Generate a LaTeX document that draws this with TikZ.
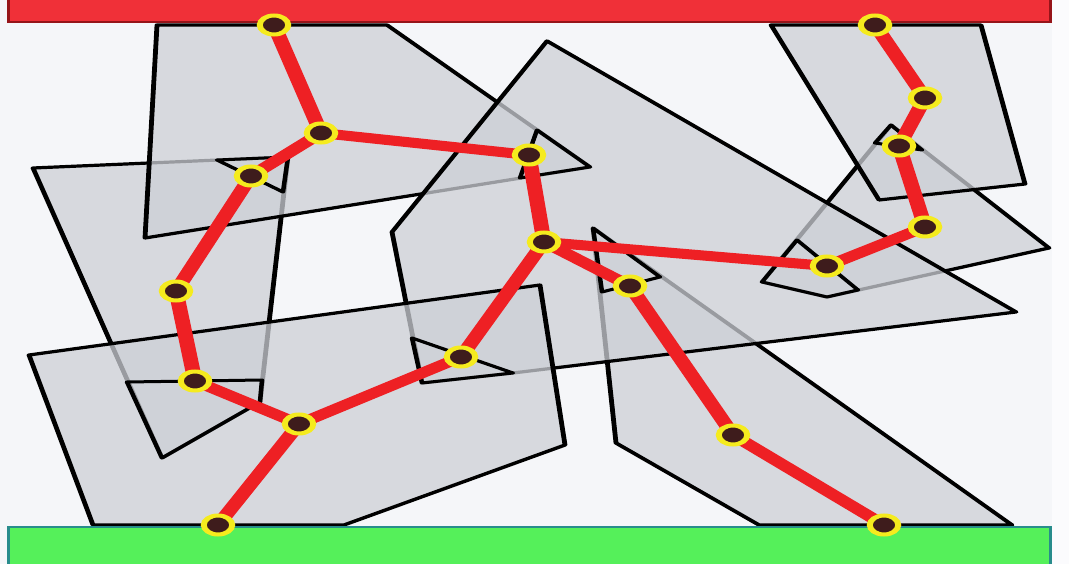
\documentclass[tikz,border=0pt]{standalone}
\definecolor{bgcol}{RGB}{245,246,249}
\definecolor{obstfill}{RGB}{205,208,214}
\definecolor{pathred}{RGB}{238,32,36}
\definecolor{ringyellow}{RGB}{245,235,30}
\definecolor{nodedark}{RGB}{62,28,28}
\definecolor{barred}{RGB}{240,48,56}
\definecolor{barredborder}{RGB}{150,20,25}
\definecolor{bargreen}{RGB}{85,240,90}
\definecolor{bargreenborder}{RGB}{40,140,140}
\begin{document}
\begin{tikzpicture}[x={(1pt,0pt)},y={(0pt,-1pt)},
  obst/.style={fill=obstfill, fill opacity=0.75, draw=black, line width=3.2pt, line join=round},
  cornerpiece/.style={draw=black, line width=3pt, line join=round},
  route/.style={draw=pathred, line width=10pt, line cap=round},
  wp/.style={circle, fill=nodedark, draw=ringyellow, line width=4pt, minimum size=19pt, inner sep=0pt}]
\useasboundingbox (0,0) rectangle (1069,564);
\fill[bgcol] (0,0) rectangle (1069,564);
\fill[white!60!bgcol] (1052,0) rectangle (1069,564);
\begin{scope}[x={(0.66667pt,0pt)}, transform canvas={xscale=1.5}]
% obstacles (bottom to top)
\path[obst] (33,168) -- (288,157) -- (260,402) -- (162,458) -- cycle;           % C
\path[obst] (157,25) -- (387,25) -- (590,167) -- (145,238) -- cycle;            % A
\path[obst] (593,228) -- (1012,525) -- (759,525) -- (616,443) -- cycle;         % G
\path[obst] (891,125) -- (1049,248) -- (827,297) -- (762,282) -- cycle;         % F
\path[obst] (771,25) -- (981,25) -- (1025,184) -- (879,200) -- cycle;           % E
\path[obst] (547,41) -- (1016,312) -- (513,373) -- (422,383) -- (392,232) -- cycle; % B
\path[obst] (29,355) -- (540,285) -- (565,445) -- (344,525) -- (93,525) -- cycle;   % D

% corner pieces
\draw[cornerpiece] (217,160) -- (288,157) -- (283,192) -- cycle;
\draw[cornerpiece] (127,382) -- (262,380) -- (260,402) -- (162,458) -- cycle;
\draw[cornerpiece] (537,130) -- (590,167) -- (520,178) -- cycle;
\draw[cornerpiece] (412,338) -- (513,373) -- (422,383) -- cycle;
\draw[cornerpiece] (875,143) -- (891,125) -- (922,150) -- cycle;
\draw[cornerpiece] (797,240) -- (762,282) -- (827,297) -- (858,290) -- cycle;
\draw[cornerpiece] (593,228) -- (660,277) -- (602,292) -- cycle;

% bars
\fill[barred] (8,0) rectangle (1050,22);
\draw[barredborder, line width=2pt] (8,-2) -- (8,22) -- (1050,22) -- (1050,-2);
\fill[bargreen] (8,527) rectangle (1050,566);
\draw[bargreenborder, line width=2pt] (8,566) -- (8,527) -- (1050,527) -- (1050,566);

% waypoints
\coordinate (n1) at (274,25);
\coordinate (n2) at (321,133);
\coordinate (n3) at (529,155);
\coordinate (n4) at (251,176);
\coordinate (n5) at (176,291);
\coordinate (n6) at (195,381);
\coordinate (n7) at (299,424);
\coordinate (n8) at (218,525);
\coordinate (n9) at (461,357);
\coordinate (n10) at (544,242);
\coordinate (n11) at (630,286);
\coordinate (n12) at (827,266);
\coordinate (n13) at (925,227);
\coordinate (n14) at (899,146);
\coordinate (n15) at (925,98);
\coordinate (n16) at (875,25);
\coordinate (n17) at (733,435);
\coordinate (n18) at (884,525);

\draw[route] (n1) -- (n2);
\draw[route] (n2) -- (n3);
\draw[route] (n2) -- (n4);
\draw[route] (n4) -- (n5);
\draw[route] (n5) -- (n6);
\draw[route] (n6) -- (n7);
\draw[route] (n7) -- (n8);
\draw[route] (n7) -- (n9);
\draw[route] (n9) -- (n10);
\draw[route] (n3) -- (n10);
\draw[route] (n10) -- (n11);
\draw[route] (n10) -- (n12);
\draw[route] (n11) -- (n17);
\draw[route] (n17) -- (n18);
\draw[route] (n12) -- (n13);
\draw[route] (n13) -- (n14);
\draw[route] (n14) -- (n15);
\draw[route] (n15) -- (n16);

\foreach \i in {1,...,18} { \node[wp] (w\i) at (n\i) {}; }
\end{scope}
\end{tikzpicture}
\end{document}
